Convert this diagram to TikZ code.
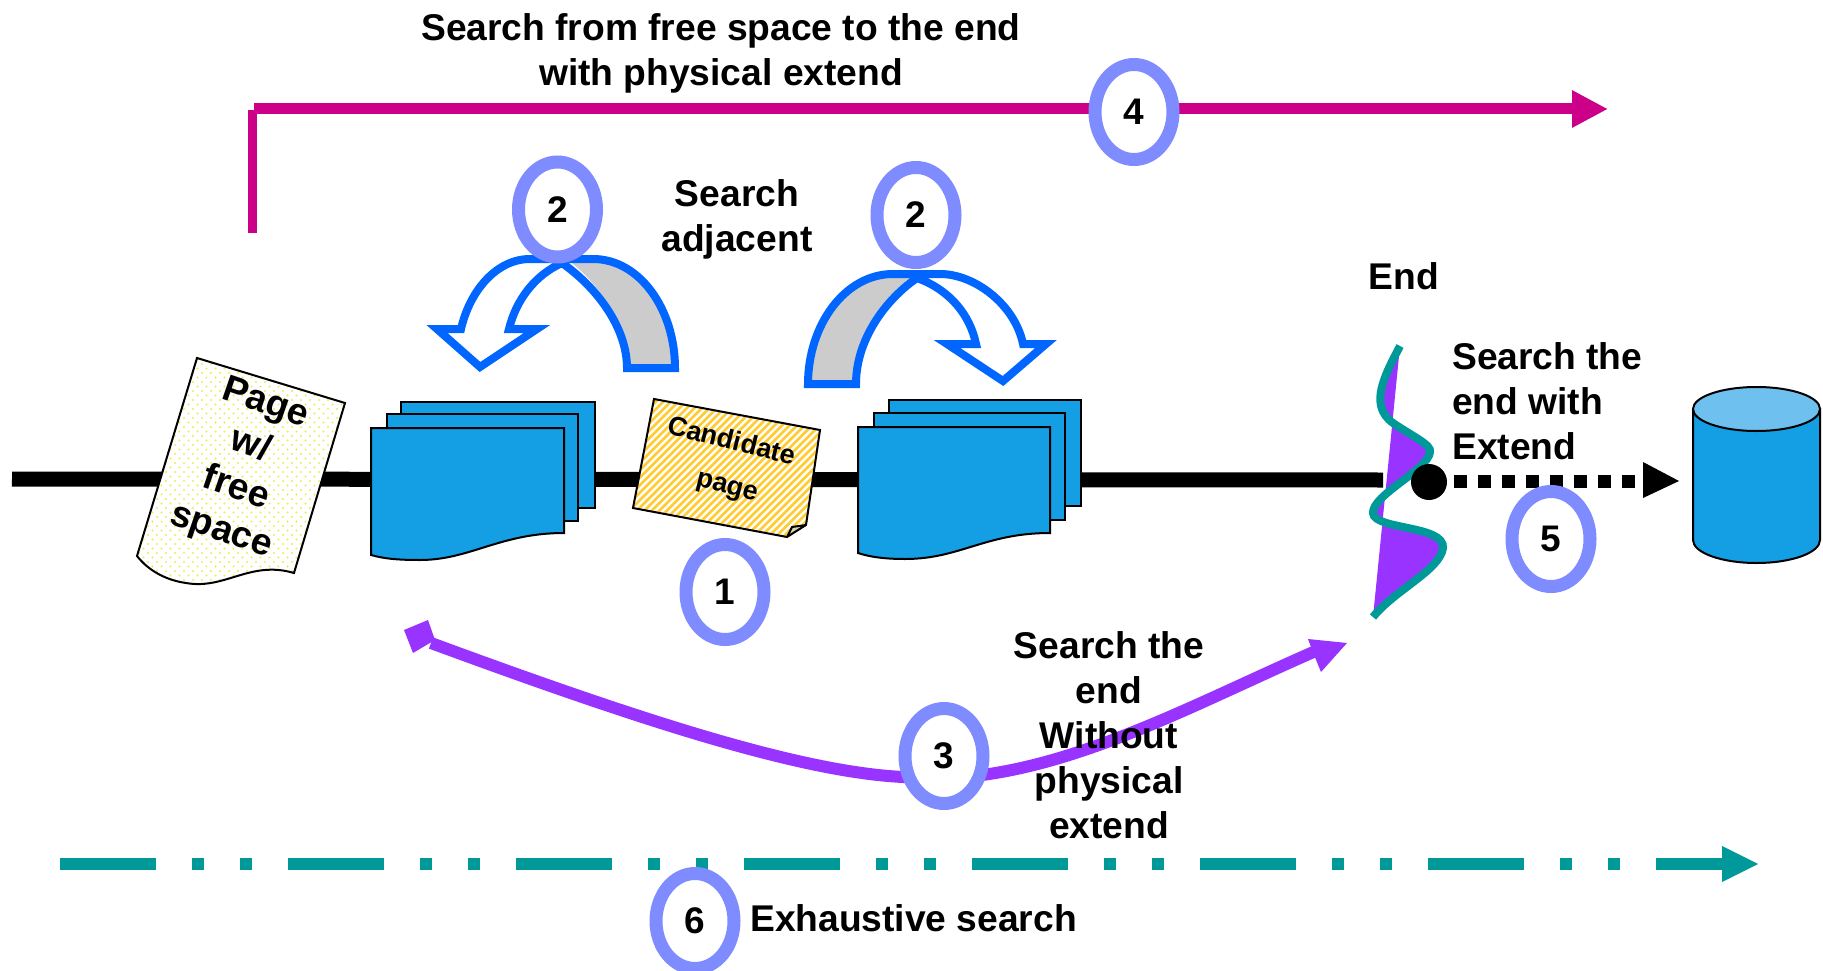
\documentclass[tikz,border=0pt]{standalone}
\usepackage{fontspec}
\setmainfont{Liberation Sans}
\usetikzlibrary{shapes.geometric,arrows.meta}
\definecolor{ringblue}{HTML}{7F8CFF}
\definecolor{arrowblue}{HTML}{0066FF}
\definecolor{docblue}{HTML}{149FE5}
\definecolor{cyltop}{HTML}{6EC1EE}
\definecolor{magentaline}{HTML}{CC0088}
\definecolor{purpleline}{HTML}{9933FF}
\definecolor{tealline}{HTML}{009999}
\definecolor{stripe}{HTML}{FFCC33}
\definecolor{dotty}{HTML}{EDED50}
\definecolor{foldgrey}{HTML}{D8D0B0}
\tikzset{
  ring/.style={ellipse,draw=ringblue,fill=white,line width=13pt,minimum width=78pt,minimum height=95pt,inner sep=0pt,font=\fontsize{37}{37}\selectfont\bfseries},
  lbl/.style={font=\fontsize{37.2}{45}\selectfont\bfseries,align=center,inner sep=0pt},
  sheet/.style={draw=black,line width=2pt,fill=docblue},
  bentarrow/.style={draw=arrowblue,line width=8pt,miter limit=10,line join=miter},
}
\begin{document}
\begin{tikzpicture}[x=1pt,y=-1pt]
\useasboundingbox (0,0) rectangle (1823,971);
% named coordinates
\coordinate (axisL) at (12,479);
\coordinate (axisR) at (1383,480);
\coordinate (magS) at (252,233);
\coordinate (magC) at (252,110);
\coordinate (magH) at (254,109);
\coordinate (magE) at (1608,109);
\coordinate (dotE) at (1679,481);
\coordinate (tealS) at (60,864);
\coordinate (tealE) at (1758,864);
\coordinate (purL) at (431,643);
\coordinate (purM) at (903,777);
\coordinate (purR) at (1318,650);
% main axis
\draw[line width=15pt] (axisL) -- (axisR);
% magenta
\draw[magentaline,line width=9pt] (magS) -- (magC);
\draw[magentaline,line width=11pt,-{Triangle[length=36pt,width=35pt]}] (magH) -- (magE);
% teal dash-dot
\draw[tealline,line width=12pt,dash pattern=on 96pt off 36pt on 12pt off 36pt on 12pt off 36pt] (tealS) -- (1722,864);
\fill[tealline] (1657,858) rectangle (1725,870);
\fill[tealline] (1722,846) -- (tealE) -- (1722,882) -- cycle;
% purple arrow
\draw[purpleline,line width=12pt] (purL) .. controls (640,720) and (800,772) .. (purM) .. controls (1040,790) and (1180,710) .. (purR);
\fill[purpleline] (1347,643) -- (1308,639) -- (1314,655) -- (1321,672) -- cycle;
\fill[purpleline] (404,630) -- (428,620) -- (435,640) -- (413,653) -- cycle;
% page with free space
\def\pagepath{(197,358) -- (345,403) -- (294,573) .. controls (250,560) and (225,590) .. (186,583) .. controls (165,580) and (148,570) .. (137,556) -- cycle}
\fill[white] \pagepath;
\begin{scope}
\clip \pagepath;
\foreach \i in {0,...,26}{\foreach \j in {0,...,32}{
  \fill[dotty] (130+\i*9,355+\j*9) circle[radius=1.2pt];
  \fill[dotty] (134.5+\i*9,359.5+\j*9) circle[radius=1.2pt];
}}
\end{scope}
\draw[line width=2pt,line join=miter] \pagepath;
\node[lbl,rotate=-19] (pagetxt) at (243,468) {Page\\w/\\free\\space};
% left stack
\draw[sheet] (401,402) rectangle (595,508);
\draw[sheet] (387,414) rectangle (578,521);
\draw[sheet] (371,428) -- (564,428) -- (564,533) .. controls (500,533) and (470,560) .. (420,560) .. controls (400,560) and (385,559) .. (371,555) -- cycle;
% right stack
\draw[sheet] (889,400) rectangle (1081,506);
\draw[sheet] (874,413) rectangle (1065,520);
\draw[sheet] (858,427) -- (1050,427) -- (1050,533) .. controls (985,533) and (960,559) .. (905,559) .. controls (885,559) and (870,557) .. (858,553) -- cycle;
% candidate page
\def\candpath{(654,399) -- (820,430) -- (806,525) -- (787,537) -- (633,508) -- cycle}
\fill[white] \candpath;
\begin{scope}
\clip \candpath;
\foreach \c in {0,...,60}{
  \draw[stripe,line width=2.8pt] (400+\c*7.5,560) -- ++(200,-200);
}
\end{scope}
\fill[foldgrey] (806,525) -- (792,527) -- (787,537) -- cycle;
\draw[line width=2pt,line join=miter] \candpath (806,525) -- (792,527) -- (787,537);
\node[font=\fontsize{27}{27}\selectfont\bfseries,rotate=-14,inner sep=0pt] (cand1) at (732,440) {Candidate};
\node[font=\fontsize{27}{27}\selectfont\bfseries,rotate=-14,inner sep=0pt] (cand2) at (727,489) {page};
% left bent arrow
\def\leftbent{(675,368) .. controls (675,310) and (640,259) .. (593,259) -- (530,259) .. controls (497,259) and (470,290) .. (461,329) -- (437,329) -- (480,367) -- (537,329) -- (509,329) .. controls (516,300) and (535,275) .. (562,263) .. controls (600,290) and (627,330) .. (627,368) -- cycle}
\fill[white] \leftbent;
\fill[black!20] (675,368) .. controls (675,310) and (640,259) .. (593,259) -- (572,263) .. controls (605,290) and (627,330) .. (627,368) -- cycle;
\draw[bentarrow] \leftbent;
% right bent arrow
\def\rightbent{(808,384) .. controls (808,325) and (845,274) .. (893,274) -- (940,274) .. controls (975,274) and (1015,305) .. (1023,344) -- (1046,344) -- (1003,381) -- (947,344) -- (976,344) .. controls (970,315) and (950,290) .. (917,278) .. controls (885,300) and (856,340) .. (856,384) -- cycle}
\fill[white] \rightbent;
\fill[black!20] (808,384) .. controls (808,325) and (845,274) .. (893,274) -- (910,278) .. controls (880,300) and (856,340) .. (856,384) -- cycle;
\draw[bentarrow] \rightbent;
% end mark
\def\endcurve{(1400,346) .. controls (1385,375) and (1368,405) .. (1393,423) .. controls (1412,436) and (1432,445) .. (1430,452) .. controls (1428,470) and (1372,495) .. (1373,513) .. controls (1374,530) and (1445,525) .. (1443,548) .. controls (1440,570) and (1395,590) .. (1373,617)}
\fill[purpleline] \endcurve -- cycle;
\draw[tealline,line width=8pt] \endcurve;
% dot and dotted arrow
\node[circle,fill=black,minimum size=36pt,inner sep=0pt] (enddot) at (1429,482) {};
\draw[line width=13pt,dash pattern=on 13pt off 11pt] (1454,481) -- (1635,481);
\fill (1643,462) -- (dotE) -- (1643,498) -- cycle;
% cylinder
\draw[line width=2pt,fill=docblue] (1693,409) -- (1693,540) arc[start angle=180,end angle=360,x radius=63.5pt,y radius=23pt] -- (1820,409) -- cycle;
\draw[line width=2pt,fill=cyltop] (1756.5,409) ellipse[x radius=63.5pt,y radius=22pt];
% rings
\node[ring] (r2a) at (557.5,209.5) {2};
\node[ring] (r2b) at (916,215) {2};
\node[ring] (r1) at (725,592) {1};
\node[ring] (r3) at (944,756) {3};
\node[ring] (r4) at (1134,112) {4};
\node[ring] (r5) at (1551,539) {5};
\node[ring] (r6) at (695,921) {6};
% labels
\node[lbl] (t4) at (721,53) {Search from free space to the end\\with physical extend};
\node[lbl] (t2) at (737,219) {Search\\adjacent};
\node[lbl] (tend) at (1404,276) {End};
\node[lbl,align=left,anchor=west] (t5) at (1452,401) {Search the\\end with\\Extend};
\node[lbl] (t3) at (1109,735) {Search the\\end\\Without\\physical\\extend};
\node[lbl,anchor=west] (t6) at (750,918) {Exhaustive search};
\end{tikzpicture}
\end{document}
